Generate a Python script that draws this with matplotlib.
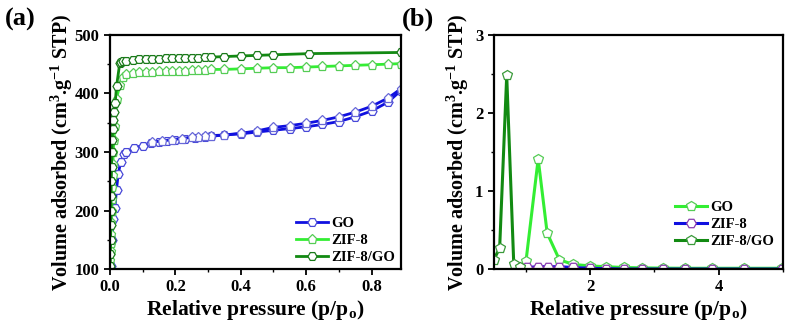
import matplotlib.pyplot as plt
from matplotlib.ticker import MultipleLocator

plt.rcParams['font.family'] = 'Liberation Serif'
plt.rcParams['font.weight'] = 'bold'
plt.rcParams['mathtext.fontset'] = 'custom'
plt.rcParams['mathtext.rm'] = 'Liberation Serif:bold'
plt.rcParams['mathtext.default'] = 'rm'

# ---------- (a) N2 isotherms ----------
go_ads_x = [0.003, 0.006, 0.010, 0.015, 0.020, 0.025, 0.033, 0.042, 0.050, 0.075, 0.10, 0.125,
            0.15, 0.175, 0.20, 0.23, 0.26, 0.29, 0.31, 0.35, 0.40, 0.45, 0.50, 0.55, 0.60,
            0.65, 0.70, 0.75, 0.80, 0.85, 0.89]
go_ads_y = [105, 150, 185, 205, 235, 262, 283, 296, 300, 307, 311, 315, 317, 318, 320, 322, 324,
            326, 327, 329, 331, 334, 337, 340, 343, 347, 352, 360, 370, 385, 405]
go_des_x = [0.89, 0.85, 0.80, 0.75, 0.70, 0.65, 0.60, 0.55, 0.50, 0.45, 0.40, 0.35, 0.31,
            0.29, 0.27, 0.25, 0.22, 0.19, 0.16, 0.13]
go_des_y = [408, 392, 378, 368, 360, 354, 349, 345, 342, 336, 332, 329, 328, 327, 326, 325,
            323, 321, 319, 317]

zif_x = [0.001, 0.0015, 0.002, 0.0025, 0.003, 0.004, 0.005, 0.006, 0.007, 0.008, 0.009, 0.010,
         0.012, 0.015, 0.020, 0.030, 0.040, 0.050, 0.07, 0.09, 0.11, 0.13, 0.15, 0.17, 0.19,
         0.21, 0.23, 0.25, 0.27, 0.29, 0.31, 0.35, 0.40, 0.45, 0.50, 0.55, 0.60, 0.65, 0.70,
         0.75, 0.80, 0.85, 0.89]
zif_y = [100, 115, 130, 145, 160, 180, 200, 220, 240, 260, 280, 300, 320, 345, 390, 415, 428,
         433, 435, 436, 437, 437, 438, 438, 439, 439, 439, 440, 440, 440, 441, 441, 442, 443,
         444, 444, 445, 446, 447, 448, 449, 450, 451]

zifgo_x = [0.001, 0.0015, 0.002, 0.0025, 0.003, 0.0035, 0.004, 0.005, 0.006, 0.007, 0.008,
           0.010, 0.013, 0.016, 0.020, 0.030, 0.035, 0.040, 0.05, 0.07, 0.09, 0.11, 0.13,
           0.15, 0.17, 0.19, 0.21, 0.23, 0.25, 0.27, 0.29, 0.31, 0.35, 0.40, 0.45, 0.50,
           0.61, 0.89]
zifgo_y = [105, 125, 150, 175, 200, 225, 250, 275, 300, 320, 340, 355, 368, 383, 412, 452, 454,
           455, 456, 457, 458, 458, 459, 459, 460, 460, 460, 461, 461, 461, 462, 462, 463,
           464, 465, 466, 468, 470]

# ---------- (b) pore size distribution ----------
b_go_x = [1.00, 1.19, 1.33, 1.52, 1.73, 2.00, 2.25, 2.52, 2.81, 3.13, 3.47, 3.89, 4.40, 4.99]
b_go_y = [0.10, 1.41, 0.46, 0.12, 0.06, 0.04, 0.03, 0.02, 0.015, 0.012, 0.01, 0.01, 0.01, 0.01]
b_zif_x = [0.95, 1.02, 1.19, 1.34, 1.52, 1.73, 2.00, 2.25, 2.52, 2.81, 3.13, 3.47, 3.89, 4.40, 4.99]
b_zif_y = [0.01, 0.02, 0.03, 0.03, 0.03, 0.02, 0.01, 0.005, 0.0, 0.0, 0.0, 0.0, 0.0, 0.0, 0.0]
b_zifgo_x = [0.50, 0.59, 0.70, 0.81, 0.90]
b_zifgo_y = [0.12, 0.27, 2.48, 0.06, 0.03]

blue = '#1010e0'
lgreen = '#33ee33'
dgreen = '#128a12'

fig = plt.figure(figsize=(7.94, 3.23), dpi=100)
ax1 = fig.add_axes([0.1385, 0.167, 0.3665, 0.725])
ax2 = fig.add_axes([0.622, 0.167, 0.364, 0.725])

ms = 6.5
mk = dict(markerfacecolor='white', markeredgewidth=0.9, markersize=ms)

ax1.plot(go_ads_x, go_ads_y, '-', color=blue, lw=2, marker='H', markeredgecolor='#4848d8', label='GO', **mk)
ax1.plot(go_des_x, go_des_y, '-', color=blue, lw=2, marker='p', markeredgecolor='#6868d8', **mk)
ax1.plot(zif_x, zif_y, '-', color=lgreen, lw=2, marker='p', markeredgecolor='#55cc55', label='ZIF-8', **mk)
ax1.plot(zifgo_x, zifgo_y, '-', color=dgreen, lw=2, marker='H', markeredgecolor='#1a7a1a', label='ZIF-8/GO', **mk)

ax1.set_xlim(0, 0.89)
ax1.set_ylim(100, 500)
ax1.xaxis.set_major_locator(MultipleLocator(0.2))
ax1.xaxis.set_minor_locator(MultipleLocator(0.1))
ax1.yaxis.set_major_locator(MultipleLocator(100))
ax1.yaxis.set_minor_locator(MultipleLocator(50))
ax1.legend(loc='lower right', bbox_to_anchor=(1.01, -0.015), frameon=False, fontsize=10.5,
           handlelength=2.2, handletextpad=0.2, labelspacing=0.25, borderaxespad=0.2)

mk2 = dict(markerfacecolor='white', markeredgewidth=0.9, markersize=7)
ax2.plot(b_go_x, b_go_y, '-', color=lgreen, lw=2.2, marker='p', markeredgecolor='#55cc55', label='GO', **mk2)
ax2.plot(b_zif_x, b_zif_y, '-', color=blue, lw=2.2, marker='H', markeredgecolor='#8a3cb0', label='ZIF-8', **mk2)
ax2.plot(b_zifgo_x, b_zifgo_y, '-', color=dgreen, lw=2.2, marker='p', markeredgecolor='#3a9a3a', label='ZIF-8/GO', **mk2)

ax2.set_xlim(0.5, 5)
ax2.set_ylim(0, 3)
ax2.xaxis.set_major_locator(MultipleLocator(2))
ax2.xaxis.set_minor_locator(MultipleLocator(1))
ax2.yaxis.set_major_locator(MultipleLocator(1))
ax2.yaxis.set_minor_locator(MultipleLocator(0.5))
ax2.legend(loc='center right', bbox_to_anchor=(1.0, 0.19), frameon=False, fontsize=10.5,
           handlelength=2.2, handletextpad=0.2, labelspacing=0.25, borderaxespad=0.2)

for ax in (ax1, ax2):
    for s in ax.spines.values():
        s.set_linewidth(1.6)
    ax.tick_params(which='major', direction='out', length=4, width=1.3, labelsize=12)
    ax.tick_params(which='minor', direction='out', length=2.5, width=1.0)
    ax.set_xlabel(r'Relative pressure (p/p$_o$)', fontsize=15.5, fontweight='bold', labelpad=2)
ax1.set_ylabel(r'Volume adsorbed (cm$^3$.g$^{-1}$ STP)', fontsize=14.5, fontweight='bold', labelpad=0)
ax2.set_ylabel(r'Volume adsorbed (cm$^3$.g$^{-1}$ STP)', fontsize=14.5, fontweight='bold', labelpad=3)

fig.text(0.006, 0.975, '(a)', fontsize=19, fontweight='bold', va='top', ha='left')
fig.text(0.506, 0.975, '(b)', fontsize=19, fontweight='bold', va='top', ha='left')

fig.savefig('out.png', dpi=100)
